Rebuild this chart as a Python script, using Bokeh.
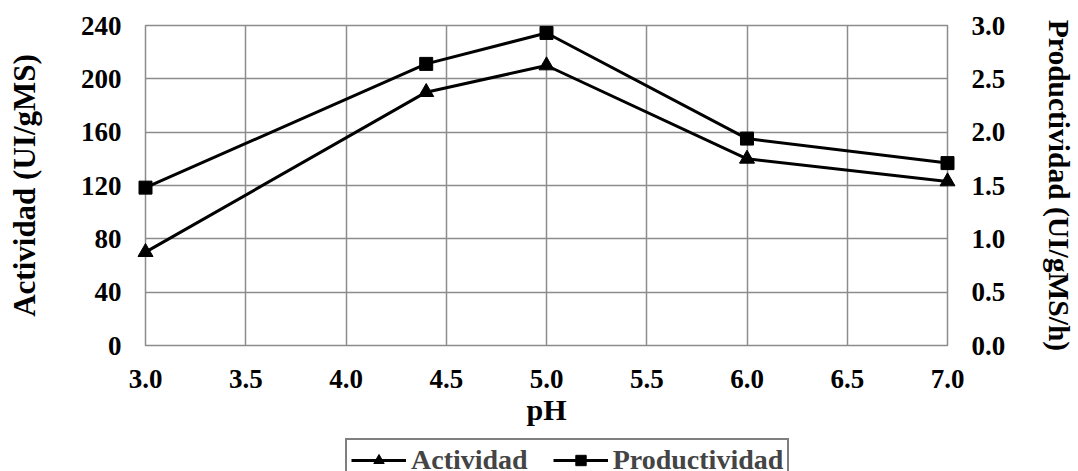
from bokeh.plotting import figure
from bokeh.layouts import column
from bokeh.models import Range1d, LinearAxis, FixedTicker, NumeralTickFormatter, Legend, LegendItem
from bokeh.embed import file_html
from bokeh.resources import INLINE

# ---- data ----
ph = [3.0, 4.4, 5.0, 6.0, 7.0]
actividad = [70, 190, 210, 140, 123]
productividad = [1.48, 2.64, 2.93, 1.94, 1.71]

x_ticks = [3.0, 3.5, 4.0, 4.5, 5.0, 5.5, 6.0, 6.5, 7.0]
left_ticks = [0, 40, 80, 120, 160, 200, 240]
right_ticks = [0.0, 0.5, 1.0, 1.5, 2.0, 2.5, 3.0]

FONT = "Liberation Serif"
GRID = "#8c8c8c"

p = figure(width=1078, height=434, output_backend="svg", toolbar_location=None,
           x_range=Range1d(3.0, 7.0), y_range=Range1d(0, 240),
           min_border_left=145, min_border_right=131,
           min_border_top=25, min_border_bottom=89)
p.extra_y_ranges = {"prod": Range1d(0.0, 3.0)}

p.outline_line_color = GRID
p.outline_line_width = 1.5
p.xgrid.ticker = FixedTicker(ticks=x_ticks)
p.ygrid.ticker = FixedTicker(ticks=left_ticks)
for g in (p.xgrid, p.ygrid):
    g.grid_line_color = GRID
    g.grid_line_width = 1.5

right_axis = LinearAxis(y_range_name="prod", axis_label="Productividad (UI/gMS/h)")
p.add_layout(right_axis, "right")

p.xaxis.ticker = FixedTicker(ticks=x_ticks)
p.xaxis.formatter = NumeralTickFormatter(format="0.0")
p.xaxis.axis_label = "pH"
p.yaxis[0].ticker = FixedTicker(ticks=left_ticks)
p.yaxis[0].axis_label = "Actividad (UI/gMS)"
right_axis.ticker = FixedTicker(ticks=right_ticks)
right_axis.formatter = NumeralTickFormatter(format="0.0")

for ax in p.axis:
    ax.axis_line_color = None
    ax.major_tick_line_color = None
    ax.minor_tick_line_color = None
    ax.major_tick_out = 0
    ax.major_tick_in = 0
    ax.major_label_standoff = 24
    ax.major_label_text_font = FONT
    ax.major_label_text_font_style = "bold"
    ax.major_label_text_font_size = "27px"
    ax.major_label_text_color = "black"
    ax.axis_label_text_font = FONT
    ax.axis_label_text_font_style = "bold"
    ax.axis_label_text_font_size = "30px"
    ax.axis_label_text_color = "black"

p.xaxis.axis_label_standoff = 2
p.yaxis[0].axis_label_standoff = 36
p.yaxis[0].axis_label_text_font_size = "31px"
right_axis.axis_label_standoff = 35
right_axis.axis_label_text_font_size = "29.5px"

l1 = p.line(ph, actividad, line_color="black", line_width=3)
m1 = p.scatter(ph, actividad, marker="triangle", size=15, color="black")
l2 = p.line(ph, productividad, line_color="black", line_width=3, y_range_name="prod")
m2 = p.scatter(ph, productividad, marker="square", size=13, color="black", y_range_name="prod")
for r in (l1, m1, l2, m2):
    r.level = "overlay"

# ---- legend strip below the chart (same series, drawn outside its view) ----
q = figure(width=1078, height=37, output_backend="svg", toolbar_location=None,
           x_range=Range1d(100, 101), y_range=Range1d(1000, 1001),
           min_border=0, outline_line_color=None)
q.axis.visible = False
q.grid.visible = False
ql1 = q.line(ph, actividad, line_color="black", line_width=3)
qm1 = q.scatter(ph, actividad, marker="triangle", size=15, color="black")
ql2 = q.line(ph, productividad, line_color="black", line_width=3)
qm2 = q.scatter(ph, productividad, marker="square", size=13, color="black")

legend = Legend(items=[LegendItem(label="Actividad", renderers=[ql1, qm1]),
                       LegendItem(label="Productividad", renderers=[ql2, qm2])],
                orientation="horizontal", location=(200, -11),
                border_line_color="black", border_line_width=2,
                label_text_font=FONT, label_text_font_style="bold",
                label_text_font_size="28px", label_standoff=5,
                glyph_width=55, glyph_height=26, label_height=26,
                spacing=25, padding=4,
                margin=0, background_fill_alpha=1.0)
q.add_layout(legend, "center")

layout = column(p, q, spacing=0)
open("out.html", "w").write(file_html(layout, INLINE))
